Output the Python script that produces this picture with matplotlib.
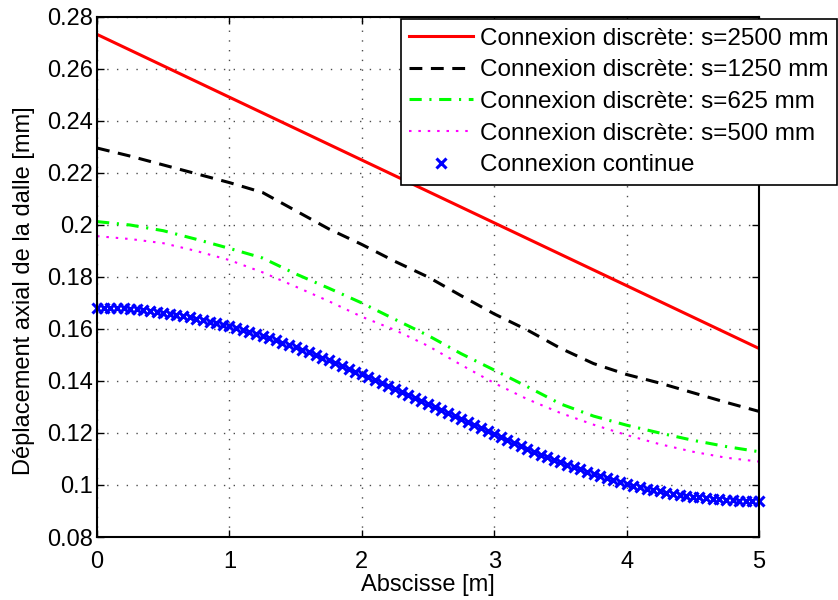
import numpy as np
import matplotlib.pyplot as plt
from matplotlib.ticker import FormatStrFormatter

plt.rcParams['font.family'] = ['Liberation Sans', 'DejaVu Sans']

# Abscisse [m] for the discrete curves (read every 0.25 m)
x_pts = [0, 0.25, 0.5, 0.75, 1.0, 1.25, 1.5, 1.75, 2.0, 2.25, 2.5,
         2.75, 3.0, 3.25, 3.5, 3.75, 4.0, 4.25, 4.5, 4.75, 5.0]

# s = 2500 mm (straight line)
x_2500 = [0, 2.5, 5]
y_2500 = [0.2733, 0.2129, 0.1525]

# s = 1250 mm
y_1250 = [0.2296, 0.2265, 0.2231, 0.2197, 0.2163, 0.2125, 0.2055, 0.1985,
          0.1925, 0.1860, 0.1800, 0.1728, 0.1658, 0.1596, 0.1526, 0.1467,
          0.1425, 0.1392, 0.1355, 0.1318, 0.1283]

# s = 625 mm
y_625 = [0.2013, 0.2000, 0.1978, 0.1945, 0.1910, 0.1873, 0.1812, 0.1757,
         0.1700, 0.1637, 0.1575, 0.1505, 0.1442, 0.1378, 0.1312, 0.1265,
         0.1230, 0.1200, 0.1172, 0.1148, 0.1128]

# s = 500 mm
y_500 = [0.1957, 0.1946, 0.1930, 0.1900, 0.1865, 0.1818, 0.1763, 0.1707,
         0.1647, 0.1596, 0.1535, 0.1462, 0.1392, 0.1330, 0.1277, 0.1232,
         0.1192, 0.1157, 0.1128, 0.1105, 0.1090]

# connexion continue, one value every 0.05 m
y_cont = [0.1682, 0.1682, 0.1681, 0.1680, 0.1679, 0.1677, 0.1675, 0.1672, 0.1669, 0.1666,
          0.1663, 0.1659, 0.1655, 0.1650, 0.1645, 0.1640, 0.1634, 0.1628, 0.1622, 0.1616,
          0.1610, 0.1603, 0.1596, 0.1588, 0.1581, 0.1573, 0.1565, 0.1556, 0.1548, 0.1539,
          0.1530, 0.1520, 0.1510, 0.1500, 0.1490, 0.1480, 0.1469, 0.1458, 0.1447, 0.1436,
          0.1425, 0.1414, 0.1402, 0.1391, 0.1379, 0.1368, 0.1357, 0.1346, 0.1334, 0.1323,
          0.1312, 0.1300, 0.1288, 0.1277, 0.1265, 0.1253, 0.1241, 0.1230, 0.1218, 0.1207,
          0.1195, 0.1184, 0.1172, 0.1161, 0.1149, 0.1138, 0.1128, 0.1117, 0.1107, 0.1097,
          0.1087, 0.1078, 0.1069, 0.1060, 0.1051, 0.1043, 0.1035, 0.1027, 0.1019, 0.1012,
          0.1005, 0.0998, 0.0992, 0.0986, 0.0980, 0.0975, 0.0970, 0.0966, 0.0962, 0.0958,
          0.0955, 0.0952, 0.0949, 0.0947, 0.0945, 0.0943, 0.0941, 0.0940, 0.0939, 0.0938,
          0.0938]
x_cont = np.linspace(0, 5, len(y_cont))

labels = ["Connexion discrète: s=2500 mm",
          "Connexion discrète: s=1250 mm",
          "Connexion discrète: s=625 mm",
          "Connexion discrète: s=500 mm",
          "Connexion continue"]

fig = plt.figure(figsize=(8.38, 6), dpi=100)
ax = fig.add_axes([0.1158, 0.105, 0.79, 0.8667])

ax.plot(x_2500, y_2500, '-', color='#ff0000', lw=2.2, label=labels[0])
ax.plot(x_pts, y_1250, '--', color='k', lw=2.2, dashes=(4.2, 2.8), label=labels[1])
ax.plot(x_pts, y_625, '-.', color='#00ff00', lw=2.2, dashes=(4, 2.5, 0.7, 2.5), label=labels[2])
ax.plot(x_pts, y_500, ':', color='#ff00ff', lw=1.5, dashes=(1.2, 3.3), label=labels[3])
ax.plot(x_cont, y_cont, 'x', color='#0000ff', ms=7.5, mew=2.2, label=labels[4],
        clip_on=False)

ax.set_xlim(0, 5)
ax.set_ylim(0.08, 0.28)
ax.set_xticks([0, 1, 2, 3, 4, 5])
ax.set_yticks([0.08, 0.10, 0.12, 0.14, 0.16, 0.18, 0.20, 0.22, 0.24, 0.26, 0.28])
ax.yaxis.set_major_formatter(FormatStrFormatter('%g'))
ax.tick_params(direction='in', length=5, width=1, labelsize=17,
               top=True, right=True)
ax.tick_params(axis='x', pad=10)
ax.tick_params(axis='y', pad=3)
ax.grid(True, color='k', linestyle=(0, (1, 6)), linewidth=1, alpha=0.7)
for sp in ax.spines.values():
    sp.set_linewidth(1.5)

ax.set_xlabel("Abscisse [m]", fontsize=17, labelpad=1)
ax.set_ylabel("Déplacement axial de la dalle [mm]", fontsize=17)
ax.yaxis.set_label_coords(-0.094, 0.473)

leg = ax.legend(loc='upper right', bbox_to_anchor=(837 / 838, 1 - 19 / 600),
                bbox_transform=fig.transFigure, borderaxespad=0,
                fontsize=17.5, handlelength=2.6, handletextpad=0.3,
                labelspacing=0.4, borderpad=0.35, numpoints=1,
                fancybox=False, framealpha=1)
leg.get_frame().set_edgecolor('k')
leg.get_frame().set_linewidth(1.2)

fig.savefig("out.png", dpi=100)
